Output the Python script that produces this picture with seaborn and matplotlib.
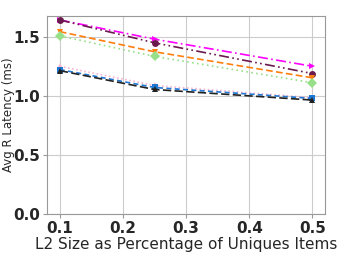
import pandas as pd
import matplotlib
matplotlib.use("Agg")
import matplotlib.pyplot as plt
import seaborn as sns

# L2 size as fraction of unique items
l2_size = [0.1, 0.25, 0.5]

# avg read latency (ms) per configuration
lat_magenta = [1.646, 1.483, 1.253]
lat_purple = [1.646, 1.452, 1.191]
lat_orange = [1.547, 1.376, 1.155]
lat_green = [1.511, 1.337, 1.113]
lat_pink = [1.253, 1.090, 0.986]
lat_blue = [1.225, 1.073, 0.980]
lat_black = [1.216, 1.056, 0.966]

series = ["magenta", "purple", "orange", "green", "pink", "blue", "black"]
values = [lat_magenta, lat_purple, lat_orange, lat_green, lat_pink, lat_blue, lat_black]

df = pd.DataFrame({
    "size": l2_size * len(series),
    "latency": [v for vals in values for v in vals],
    "series": [s for s in series for _ in l2_size],
})

colors = {"magenta": "#ff00ff", "purple": "#6b1a4e", "orange": "#ff7f0e",
          "green": "#98df8a", "pink": "#f7b6d2", "blue": "#1f77d4", "black": "#222222"}
styles = {"magenta": (0, (6, 2, 1, 2)), "purple": (0, (6, 2, 1, 2, 1, 2)),
          "orange": (0, (4, 2)), "green": (0, (1, 2)), "pink": (0, (1, 1.5)),
          "blue": (0, (3, 2)), "black": (0, (5, 2))}
markers = {"magenta": ">", "purple": "o", "orange": "v", "green": "D",
           "pink": "^", "blue": "s", "black": "^"}

sns.set_style("whitegrid", {"axes.edgecolor": "#999999", "grid.color": "#cccccc"})
fig = plt.figure(figsize=(3.44, 2.75), dpi=100)
ax = fig.add_axes([0.137, 0.222, 0.808, 0.72])

for s in series:
    sub = df[df["series"] == s]
    sns.lineplot(data=sub, x="size", y="latency", ax=ax, color=colors[s],
                 marker=markers[s], markersize=5, markeredgewidth=0,
                 linewidth=1.2, linestyle=styles[s])

ax.set_ylim(bottom=0)
ax.set_xticks([0.1, 0.2, 0.3, 0.4, 0.5])
ax.set_yticks([0.0, 0.5, 1.0, 1.5])
ax.set_xticklabels(["0.1", "0.2", "0.3", "0.4", "0.5"], fontsize=11, fontweight="bold")
ax.set_yticklabels(["0.0", "0.5", "1.0", "1.5"], fontsize=11, fontweight="bold")
ax.tick_params(axis="both", pad=2, length=3, color="#999999", left=True, bottom=True)
ax.set_xlabel("L2 Size as Percentage of Uniques Items", fontsize=11, labelpad=1)
ax.set_ylabel("Avg R Latency (ms)", fontsize=8.5)
ax.yaxis.set_label_coords(-0.115, 0.5)

fig.savefig("out.png", dpi=100)
